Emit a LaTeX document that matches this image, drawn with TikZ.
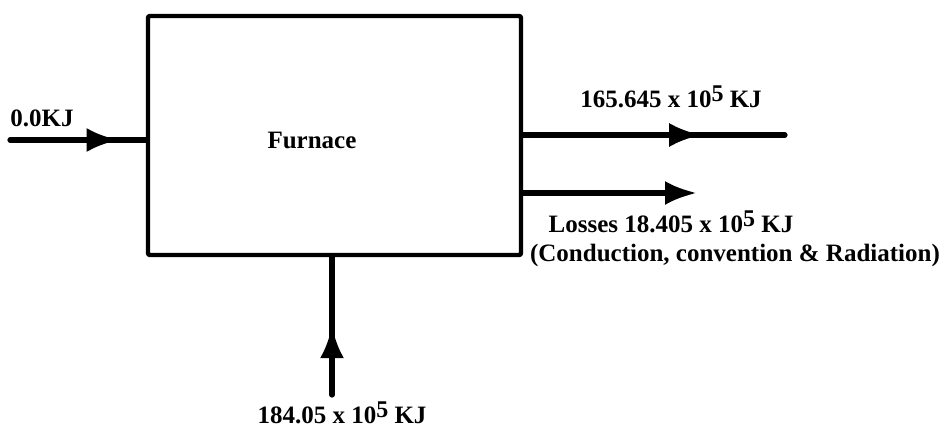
\documentclass[tikz,border=0pt]{standalone}
\usepackage{fontspec}
\setmainfont{Liberation Serif}
\usepackage{tikz}
\usetikzlibrary{arrows.meta,positioning,decorations.markings}
\tikzset{
  flow-line/.style={line width=2.6pt, line cap=round},
  flow-mid/.style={flow-line, postaction={decorate}, decoration={markings,
    mark=at position #1 with {\arrow{Latex[length=16pt,width=12pt]}}}},
  furnace-box/.style={draw, line width=2.2pt, rounded corners=1pt, minimum width=186.5pt, minimum height=119.5pt, inner sep=0pt},
  flow-label/.style={font=\bfseries\fontsize{12.5}{14}\selectfont, inner sep=0pt}
}
\newcommand{\tenfive}{10\raisebox{0.55ex}{\fontsize{12}{12}\selectfont 5}}

\begin{document}
\begin{tikzpicture}[x=0.5pt, y=-0.5pt]
  \useasboundingbox (0,0) rectangle (943,434);
  % Furnace
  \node[furnace-box] (furnace) at (334.5,135.5) {};
  \node[flow-label] (fname) at (312,140) {Furnace};

  % Free ends of the flows
  \coordinate (fuel) at (10,140);
  \coordinate (prod) at (785,135);
  \coordinate (loss) at (697,193);
  \coordinate (heat) at (332,395);

  % Flows
  \draw[flow-mid=0.8] (fuel) -- (fuel -| furnace.west);
  \draw[flow-mid=0.68] (prod -| furnace.east) -- (prod);
  \draw[flow-line, -{Latex[length=16pt,width=12pt]}] (loss -| furnace.east) -- (loss);
  \draw[flow-mid=0.5] (heat) -- (heat |- furnace.south);

  % Labels
  \node[flow-label, anchor=west] (lfuel) at (10,118) {0.0KJ};
  \node[flow-label] (lprod) at (671,97) {165.645 x \tenfive{} KJ};
  \node[flow-label] (lloss) at (671,222) {Losses 18.405 x \tenfive{} KJ};
  \node[flow-label] (lmode) at (735,255) {(Conduction, convention \& Radiation)};
  \node[flow-label] (lheat) at (342,413) {184.05 x \tenfive{} KJ};
\end{tikzpicture}
\end{document}
